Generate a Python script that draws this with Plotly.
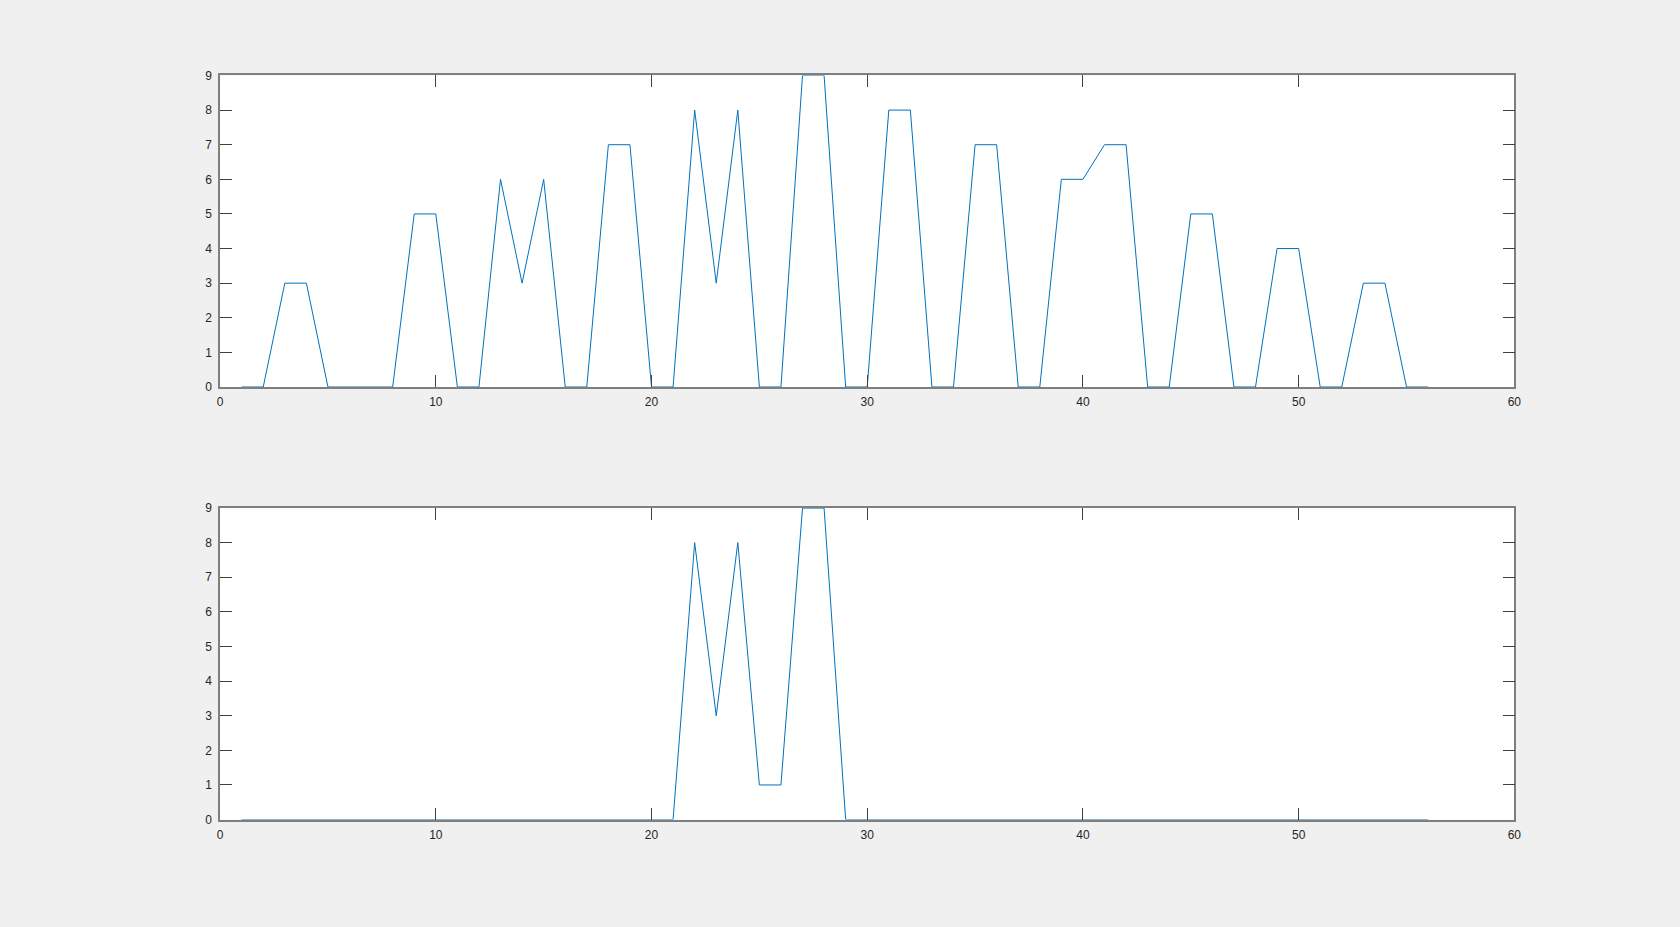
import plotly.graph_objects as go

x_vals = list(range(1, 57))
top_vals = [0, 0, 3, 3, 0, 0, 0, 0, 5, 5, 0, 0, 6, 3, 6, 0, 0, 7, 7, 0,
            0, 8, 3, 8, 0, 0, 9, 9, 0, 0, 8, 8, 0, 0, 7, 7, 0, 0, 6, 6,
            7, 7, 0, 0, 5, 5, 0, 0, 4, 4, 0, 0, 3, 3, 0, 0]
bottom_vals = [0] * 21 + [8, 3, 8, 1, 1, 9, 9] + [0] * 28
x_ticks = [0, 10, 20, 30, 40, 50, 60]
y_ticks = [0, 1, 2, 3, 4, 5, 6, 7, 8, 9]

line_color = "#0072BD"
fig = go.Figure()
fig.add_trace(go.Scatter(x=x_vals, y=top_vals, mode="lines",
                         line=dict(color=line_color, width=1),
                         xaxis="x", yaxis="y", showlegend=False, hoverinfo="skip"))
fig.add_trace(go.Scatter(x=x_vals, y=bottom_vals, mode="lines",
                         line=dict(color=line_color, width=1),
                         xaxis="x2", yaxis="y2", showlegend=False, hoverinfo="skip"))

tickfont = dict(family="Liberation Sans, Arial, sans-serif", size=12, color="#262626")
common_x = dict(range=[0, 60], tickvals=x_ticks, ticks="inside", ticklen=12,
                tickcolor="#404040", tickwidth=1, showline=True, linecolor="#7f7f7f",
                linewidth=1.5, mirror="ticks", showgrid=False, zeroline=False,
                tickfont=tickfont, ticklabelstandoff=3)
common_y = dict(range=[0, 9], tickvals=y_ticks, ticks="inside", ticklen=12,
                tickcolor="#404040", tickwidth=1, showline=True, linecolor="#7f7f7f",
                linewidth=1.5, mirror="ticks", showgrid=False, zeroline=False,
                tickfont=tickfont, ticklabelstandoff=4)

fig.update_layout(
    autosize=True,
    margin=dict(l=0, r=0, t=0, b=0, pad=0),
    paper_bgcolor="#f0f0f0", plot_bgcolor="#ffffff",
    xaxis=dict(domain=[0.13, 0.905], anchor="y", **common_x),
    yaxis=dict(domain=[0.5838, 0.925], anchor="x", **common_y),
    xaxis2=dict(domain=[0.13, 0.905], anchor="y2", **common_x),
    yaxis2=dict(domain=[0.11, 0.4512], anchor="x2", **common_y),
)

post = (
    "document.documentElement.style.margin='0';"
    "document.documentElement.style.overflow='hidden';"
    "document.body.style.margin='0';"
    "document.body.style.overflow='hidden';"
    "document.body.style.background='#f0f0f0';"
    "var gd=document.getElementById('{plot_id}');"
    "gd.style.width='100vw';gd.style.height='100vh';"
    "Plotly.Plots.resize(gd);"
)

fig.write_html("out.html", default_width="100vw", default_height="100vh",
               config={"displayModeBar": False, "responsive": True},
               post_script=post)
